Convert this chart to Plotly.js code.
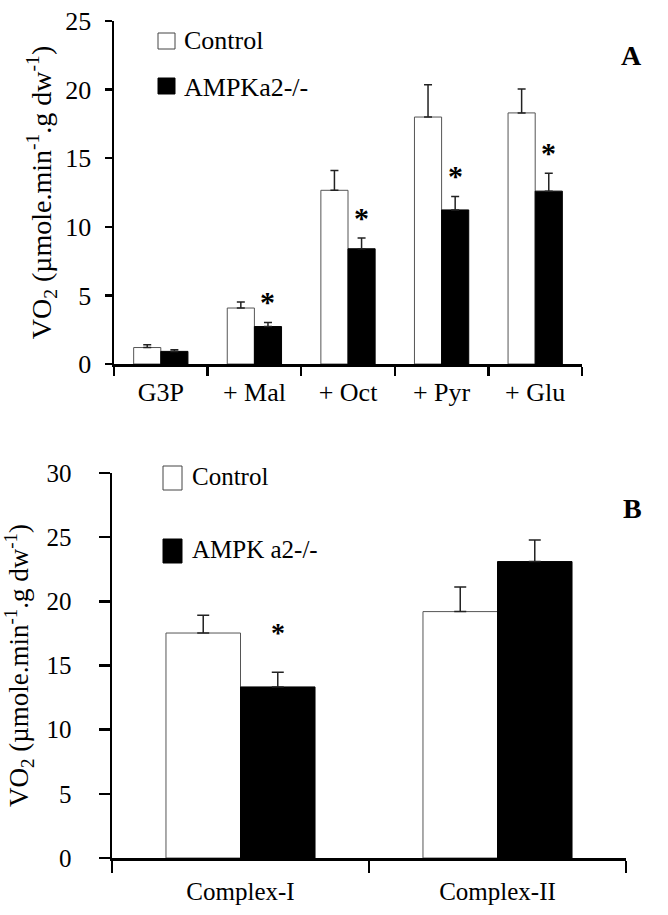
<!DOCTYPE html>
<html>
<head>
<meta charset="utf-8">
<script src="https://cdn.plot.ly/plotly-3.0.1.min.js"></script>
<style>html,body{margin:0;padding:0;background:#fff;}</style>
</head>
<body>
<div id="chart" style="width:668px;height:915px;"></div>
<script>
// Panel A data
const catsA = ["G3P", "+ Mal", "+ Oct", "+ Pyr", "+ Glu"];
const controlA = [1.2, 4.08, 12.66, 18.0, 18.3];
const controlErrA = [0.2, 0.44, 1.45, 2.35, 1.75];
const ampkA = [0.92, 2.73, 8.4, 11.23, 12.6];
const ampkErrA = [0.12, 0.29, 0.78, 0.97, 1.3];
const starA = ["", "*", "*", "*", "*"];

// Panel B data
const catsB = ["Complex-I", "Complex-II"];
const controlB = [17.53, 19.2];
const controlErrB = [1.38, 1.92];
const ampkB = [13.33, 23.1];
const ampkErrB = [1.15, 1.67];
const starB = ["*", ""];

const FONT = "Liberation Serif";
const W = 668, H = 915;
const px = x => x / W;
const py = y => 1 - y / H;
const zeros = a => a.map(() => 0);

function barTrace(cats, vals, errs, name, black, xa, ya, capw) {
  return {
    type: "bar", x: cats, y: vals, name: name, xaxis: xa, yaxis: ya,
    showlegend: false,
    marker: { color: black ? "#000" : "#fff", line: { color: black ? "#000" : "#555", width: 1 } },
    error_y: { type: "data", symmetric: false, array: errs, arrayminus: zeros(errs),
               color: "#222", thickness: 1.5, width: capw },
    hoverinfo: "x+y"
  };
}

const data = [
  barTrace(catsA, controlA, controlErrA, "Control", false, "x", "y", 4),
  barTrace(catsA, ampkA, ampkErrA, "AMPKa2-/-", true, "x", "y", 4),
  barTrace(catsB, controlB, controlErrB, "Control", false, "x2", "y2", 6),
  barTrace(catsB, ampkB, ampkErrB, "AMPK a2-/-", true, "x2", "y2", 6)
];

const annotations = [];
catsA.forEach((c, i) => {
  if (starA[i]) annotations.push({ xref: "x", yref: "y", x: c, y: ampkA[i] + ampkErrA[i],
    text: "<b>*</b>", showarrow: false, xshift: 13.5, yshift: 21, yanchor: "middle",
    font: { family: FONT, size: 30, color: "#000" } });
});
catsB.forEach((c, i) => {
  if (starB[i]) annotations.push({ xref: "x2", yref: "y2", x: c, y: ampkB[i] + ampkErrB[i],
    text: "<b>*</b>", showarrow: false, xshift: 37, yshift: 40, yanchor: "middle",
    font: { family: FONT, size: 28, color: "#000" } });
});
// legend labels and panel letters
annotations.push(
  { xref: "paper", yref: "paper", x: px(182), y: py(41), xanchor: "left", yanchor: "middle",
    text: "Control", showarrow: false, font: { family: FONT, size: 26, color: "#000" } },
  { xref: "paper", yref: "paper", x: px(182), y: py(87), xanchor: "left", yanchor: "middle",
    text: "AMPKa2-/-", showarrow: false, font: { family: FONT, size: 26, color: "#000" } },
  { xref: "paper", yref: "paper", x: px(190), y: py(476), xanchor: "left", yanchor: "middle",
    text: "Control", showarrow: false, font: { family: FONT, size: 25, color: "#000" } },
  { xref: "paper", yref: "paper", x: px(190), y: py(549), xanchor: "left", yanchor: "middle",
    text: "AMPK a2-/-", showarrow: false, font: { family: FONT, size: 25, color: "#000" } },
  { xref: "paper", yref: "paper", x: px(631), y: py(56), xanchor: "center", yanchor: "middle",
    text: "<b>A</b>", showarrow: false, font: { family: FONT, size: 28, color: "#000" } },
  { xref: "paper", yref: "paper", x: px(632), y: py(508), xanchor: "center", yanchor: "middle",
    text: "<b>B</b>", showarrow: false, font: { family: FONT, size: 28, color: "#000" } }
);

const shapes = [
  { type: "rect", xref: "paper", yref: "paper", x0: px(158), x1: px(175), y0: py(33), y1: py(49),
    line: { color: "#444", width: 1 }, fillcolor: "#fff" },
  { type: "rect", xref: "paper", yref: "paper", x0: px(158), x1: px(175), y0: py(78), y1: py(94),
    line: { color: "#000", width: 1 }, fillcolor: "#000" },
  { type: "rect", xref: "paper", yref: "paper", x0: px(163), x1: px(182), y0: py(466), y1: py(490),
    line: { color: "#444", width: 1 }, fillcolor: "#fff" },
  { type: "rect", xref: "paper", yref: "paper", x0: px(163), x1: px(182), y0: py(539), y1: py(563),
    line: { color: "#000", width: 1 }, fillcolor: "#000" }
];

const titleText = "VO<sub>2</sub> (µmole.min<sup>-1</sup>.g dw<sup>-1</sup>)";

function xAxis(domain, anchor, size, tl, stand) {
  return { domain: domain, anchor: anchor, type: "category", tickson: "boundaries",
    ticks: "outside", ticklen: tl, tickwidth: 2.5, tickcolor: "#000",
    showline: true, linewidth: 2.5, linecolor: "#000", showgrid: false, zeroline: false,
    ticklabelstandoff: stand,
    tickfont: { family: FONT, size: size, color: "#000" }, automargin: false, fixedrange: true };
}
function yAxis(domain, anchor, range, size, tl, standoff, tstand, tsize) {
  return { domain: domain, anchor: anchor, range: range, dtick: 5, tick0: 0,
    ticks: "outside", ticklen: tl, tickwidth: 2.5, tickcolor: "#000",
    showline: true, linewidth: 2.5, linecolor: "#000", showgrid: false, zeroline: false,
    ticklabelstandoff: standoff,
    tickfont: { family: FONT, size: size, color: "#000" },
    title: { text: titleText, standoff: tstand, font: { family: FONT, size: tsize, color: "#000" } },
    automargin: false, fixedrange: true };
}

const layout = {
  width: W, height: H,
  margin: { l: 0, r: 0, t: 0, b: 0 },
  paper_bgcolor: "#fff", plot_bgcolor: "#fff",
  barmode: "group", bargap: 0.42, bargroupgap: 0,
  showlegend: false,
  xaxis: xAxis([px(114), px(582)], "y", 26, 9, 3),
  yaxis: yAxis([py(364), py(21)], "x", [0, 25], 26, 7, 8, 6, 28),
  xaxis2: xAxis([px(112), px(626)], "y2", 25, 12, 9),
  yaxis2: yAxis([py(858), py(473)], "x2", [0, 30], 25, 11, 22, 14, 27),
  annotations: annotations,
  shapes: shapes
};

Plotly.newPlot("chart", data, layout, { displayModeBar: false, staticPlot: true });
</script>
</body>
</html>
